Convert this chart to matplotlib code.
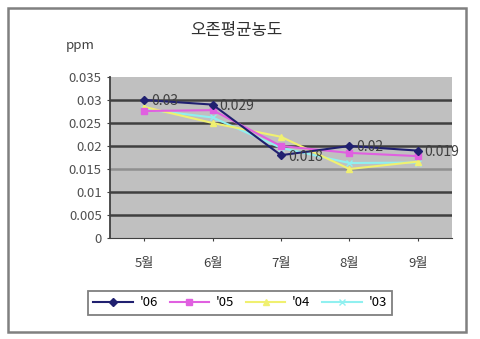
import matplotlib
matplotlib.use("Agg")
import matplotlib.pyplot as plt
from matplotlib.patches import Rectangle

plt.rcParams['font.family'] = ['Noto Sans CJK KR', 'DejaVu Sans']

months = ['5월', '6월', '7월', '8월', '9월']
s06 = [0.030, 0.029, 0.018, 0.020, 0.019]
s05 = [0.0276, 0.0278, 0.0200, 0.0185, 0.0178]
s04 = [0.0285, 0.0250, 0.0220, 0.0150, 0.0166]
s03 = [0.0280, 0.0262, 0.0196, 0.0163, 0.0164]
labels06 = ['0.03', '0.029', '0.018', '0.02', '0.019']
series_names = ["'06", "'05", "'04", "'03"]
yticks = [0, 0.005, 0.01, 0.015, 0.02, 0.025, 0.03, 0.035]
ytick_labels = ['0', '0.005', '0.01', '0.015', '0.02', '0.025', '0.03', '0.035']

fig = plt.figure(figsize=(4.8, 3.39), dpi=100)
fig.patch.set_facecolor('white')
fig.patches.append(Rectangle((8/480, 1-332/339), (466-8)/480, (332-8)/339,
                             transform=fig.transFigure, fill=False,
                             edgecolor='#808080', linewidth=1.8))

ax = fig.add_axes([110/480, 1-238/339, 342/480, 161/339])
ax.set_facecolor('#c0c0c0')
x = list(range(len(months)))

ax.set_xlim(-0.5, len(months)-0.5)
ax.set_ylim(0, 0.035)
for yv in yticks[1:-1]:
    col = '#909090' if abs(yv-0.015) < 1e-9 else '#404040'
    ax.axhline(yv, color=col, linewidth=1.8, zorder=1)

ax.plot(x, s03, color='#90f0f0', marker='x', markersize=5, linewidth=1.5, label=series_names[3], zorder=3)
ax.plot(x, s04, color='#f0f070', marker='^', markersize=5, linewidth=1.5, label=series_names[2], zorder=3)
ax.plot(x, s05, color='#e060e0', marker='s', markersize=5, linewidth=1.5, label=series_names[1], zorder=4)
ax.plot(x, s06, color='#202070', marker='D', markersize=4, linewidth=1.5, label=series_names[0], zorder=5)

for xi, yi, t in zip(x, s06, labels06):
    ax.annotate(t, (xi, yi), xytext=(5, -1), textcoords='offset points',
                fontsize=10, color='#404040', va='center', ha='left', zorder=6,
                annotation_clip=False)

ax.set_xticks(x)
ax.set_xticklabels(months, fontsize=9.5, color='#404040')
ax.set_yticks(yticks)
ax.set_yticklabels(ytick_labels, fontsize=9.5, color='#505050')
ax.tick_params(axis='x', length=2, color='#404040', pad=12)
ax.tick_params(axis='y', length=2, color='#404040', pad=4)
for side in ['top', 'right']:
    ax.spines[side].set_visible(False)
ax.spines['left'].set_color('#404040')
ax.spines['left'].set_linewidth(1.3)
ax.spines['bottom'].set_color('#404040')

fig.text(236/480, 1-30/339, '오존평균농도', fontsize=12, color='#303030', ha='center', va='center')
fig.text(80/480, 1-45/339, 'ppm', fontsize=9.5, color='#404040', ha='center', va='center')

handles, lbls = ax.get_legend_handles_labels()
order = [3, 2, 1, 0]
leg = fig.legend([handles[i] for i in order], [lbls[i] for i in order],
                 loc='center', bbox_to_anchor=(240/480, 1-303/339), ncol=4,
                 fontsize=9.5, frameon=True, fancybox=False, edgecolor='#606060',
                 handlelength=3.0, handletextpad=0.5, columnspacing=0.9, borderpad=0.4)
leg.get_frame().set_linewidth(1.3)

fig.savefig('out.png', dpi=100)
